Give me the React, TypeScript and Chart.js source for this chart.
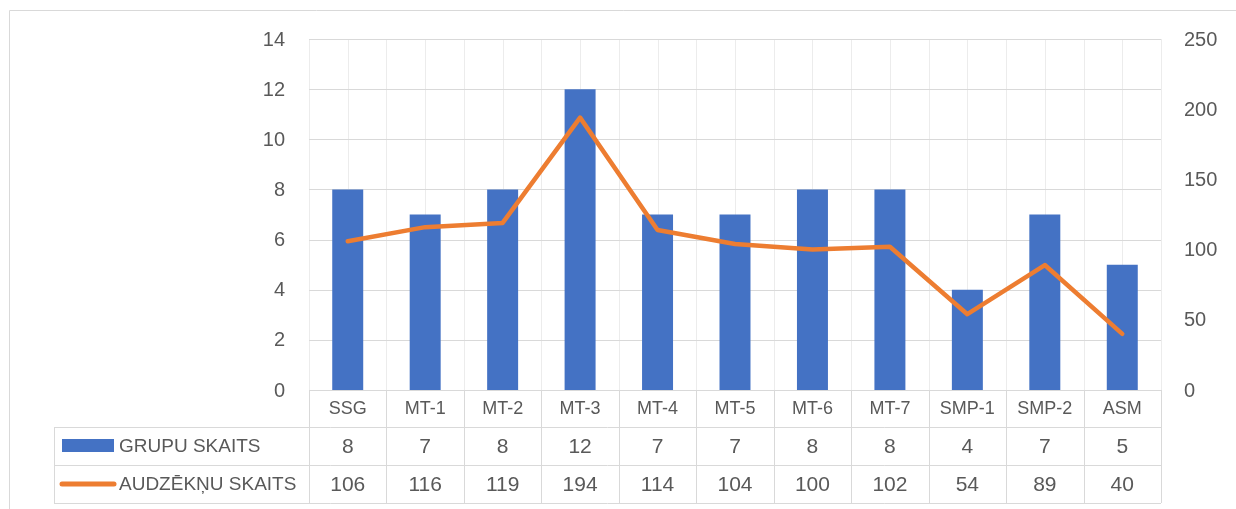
import React, { useEffect, useRef } from 'react';
import { Chart, registerables } from 'chart.js';

Chart.register(...registerables);

const categories = ['SSG', 'MT-1', 'MT-2', 'MT-3', 'MT-4', 'MT-5', 'MT-6', 'MT-7', 'SMP-1', 'SMP-2', 'ASM'];
const grupuSkaits = [8, 7, 8, 12, 7, 7, 8, 8, 4, 7, 5];
const audzekniSkaits = [106, 116, 119, 194, 114, 104, 100, 102, 54, 89, 40];
const seriesNames = ['GRUPU SKAITS', 'AUDZĒKŅU SKAITS'];
const leftAxis = { max: 14, step: 2 };
const rightAxis = { max: 250, step: 50 };

const BLUE = '#4472C4';
const ORANGE = '#ED7D31';
const GRID = '#d9d9d9';
const VGRID = '#ececec';
const TEXT = '#595959';
const FONT = "'Liberation Sans', Arial, sans-serif";

const CAT_ROW_H = 37;
const ROW_H = 38;
const TABLE_LEFT = 54;

const tablePlugin = {
  id: 'dataTable',
  beforeDatasetsDraw(chart: any) {
    const { ctx, chartArea } = chart;
    const x = chart.scales.x;
    const y = chart.scales.y;
    const n = categories.length;
    const step = (chartArea.right - chartArea.left) / n;
    const bottom = chartArea.bottom + CAT_ROW_H + ROW_H * 2;
    ctx.save();
    ctx.lineWidth = 1;
    // outer chart border
    ctx.strokeStyle = GRID;
    ctx.beginPath();
    ctx.moveTo(9.5, 510);
    ctx.lineTo(9.5, 10.5);
    ctx.lineTo(1240, 10.5);
    ctx.stroke();
    // light vertical gridlines in plot area (category centres and boundaries)
    ctx.strokeStyle = VGRID;
    for (let i = 0; i <= n * 2; i++) {
      const px = Math.round(x.getPixelForValue(0) - step / 2 + (i * step) / 2) + 0.5;
      ctx.beginPath();
      ctx.moveTo(px, chartArea.top);
      ctx.lineTo(px, chartArea.bottom);
      ctx.stroke();
    }
    // horizontal gridlines from left axis ticks
    ctx.strokeStyle = GRID;
    y.ticks.forEach((t: any) => {
      const py = Math.round(y.getPixelForValue(t.value)) + 0.5;
      ctx.beginPath();
      ctx.moveTo(chartArea.left, py);
      ctx.lineTo(chartArea.right, py);
      ctx.stroke();
    });
    // table vertical lines
    for (let i = 0; i <= n; i++) {
      const px = Math.round(x.getPixelForValue(i) - step / 2) + 0.5;
      ctx.beginPath();
      ctx.moveTo(px, chartArea.bottom);
      ctx.lineTo(px, bottom);
      ctx.stroke();
    }
    // table horizontal lines
    const rows = [chartArea.bottom + CAT_ROW_H, chartArea.bottom + CAT_ROW_H + ROW_H, bottom];
    rows.forEach((yy) => {
      ctx.beginPath();
      ctx.moveTo(TABLE_LEFT, Math.round(yy) + 0.5);
      ctx.lineTo(chartArea.right, Math.round(yy) + 0.5);
      ctx.stroke();
    });
    ctx.beginPath();
    ctx.moveTo(TABLE_LEFT + 0.5, chartArea.bottom + CAT_ROW_H);
    ctx.lineTo(TABLE_LEFT + 0.5, bottom);
    ctx.stroke();
    ctx.restore();
  },
  afterDraw(chart: any) {
    const { ctx, chartArea } = chart;
    const x = chart.scales.x;
    const r1 = chartArea.bottom + CAT_ROW_H + ROW_H / 2;
    const r2 = r1 + ROW_H;
    ctx.save();
    // legend keys
    ctx.fillStyle = BLUE;
    ctx.fillRect(62, r1 - 7, 52, 13);
    ctx.strokeStyle = ORANGE;
    ctx.lineWidth = 5;
    ctx.lineCap = 'round';
    ctx.beginPath();
    ctx.moveTo(62, r2);
    ctx.lineTo(114, r2);
    ctx.stroke();
    ctx.fillStyle = TEXT;
    ctx.textBaseline = 'middle';
    ctx.textAlign = 'left';
    ctx.font = `19px ${FONT}`;
    ctx.fillText(seriesNames[0], 119, r1 + 1);
    ctx.fillText(seriesNames[1], 119, r2 + 1);
    ctx.textAlign = 'center';
    ctx.font = `21px ${FONT}`;
    categories.forEach((_, i) => {
      const px = x.getPixelForValue(i);
      ctx.fillText(String(grupuSkaits[i]), px, r1 + 1);
      ctx.fillText(String(audzekniSkaits[i]), px, r2 + 1);
    });
    ctx.restore();
  },
};

export default function App() {
  const ref = useRef<HTMLCanvasElement>(null);
  useEffect(() => {
    if (!ref.current) return;
    const chart = new Chart(ref.current, {
      type: 'bar',
      data: {
        labels: categories,
        datasets: [
          {
            type: 'line',
            label: seriesNames[1],
            data: audzekniSkaits,
            yAxisID: 'y1',
            borderColor: ORANGE,
            backgroundColor: ORANGE,
            borderWidth: 4.5,
            pointRadius: 0,
            tension: 0,
            borderCapStyle: 'round',
            borderJoinStyle: 'round',
            order: 0,
          } as any,
          {
            type: 'bar',
            label: seriesNames[0],
            data: grupuSkaits,
            yAxisID: 'y',
            backgroundColor: BLUE,
            barPercentage: 0.4,
            categoryPercentage: 1,
            order: 1,
          },
        ],
      },
      options: {
        animation: false,
        responsive: false,
        devicePixelRatio: 1,
        layout: { padding: { top: 39, left: 0, right: 0, bottom: 0 } },
        plugins: { legend: { display: false }, tooltip: { enabled: false } },
        scales: {
          x: {
            offset: true,
            grid: { display: false, drawTicks: false },
            border: { display: false },
            ticks: { color: TEXT, font: { family: FONT, size: 18 }, padding: 8, maxRotation: 0 },
            afterFit: (s: any) => { s.height = 119; },
          },
          y: {
            position: 'left',
            min: 0,
            max: leftAxis.max,
            ticks: { stepSize: leftAxis.step, color: TEXT, font: { family: FONT, size: 20 }, padding: 24, labelOffset: 1 },
            grid: { display: false, drawTicks: false },
            border: { display: false },
            afterFit: (s: any) => { s.width = 309; },
          },
          y1: {
            position: 'right',
            min: 0,
            max: rightAxis.max,
            ticks: { stepSize: rightAxis.step, color: TEXT, font: { family: FONT, size: 20 }, padding: 23, labelOffset: 1 },
            grid: { display: false, drawTicks: false },
            border: { display: false },
            afterFit: (s: any) => { s.width = 75; },
          },
        },
      },
      plugins: [tablePlugin],
    });
    return () => chart.destroy();
  }, []);
  return (
    <canvas
      ref={ref}
      width={1236}
      height={509}
      style={{ position: 'fixed', top: 0, left: 0, width: 1236, height: 509, background: '#fff' }}
    />
  );
}
